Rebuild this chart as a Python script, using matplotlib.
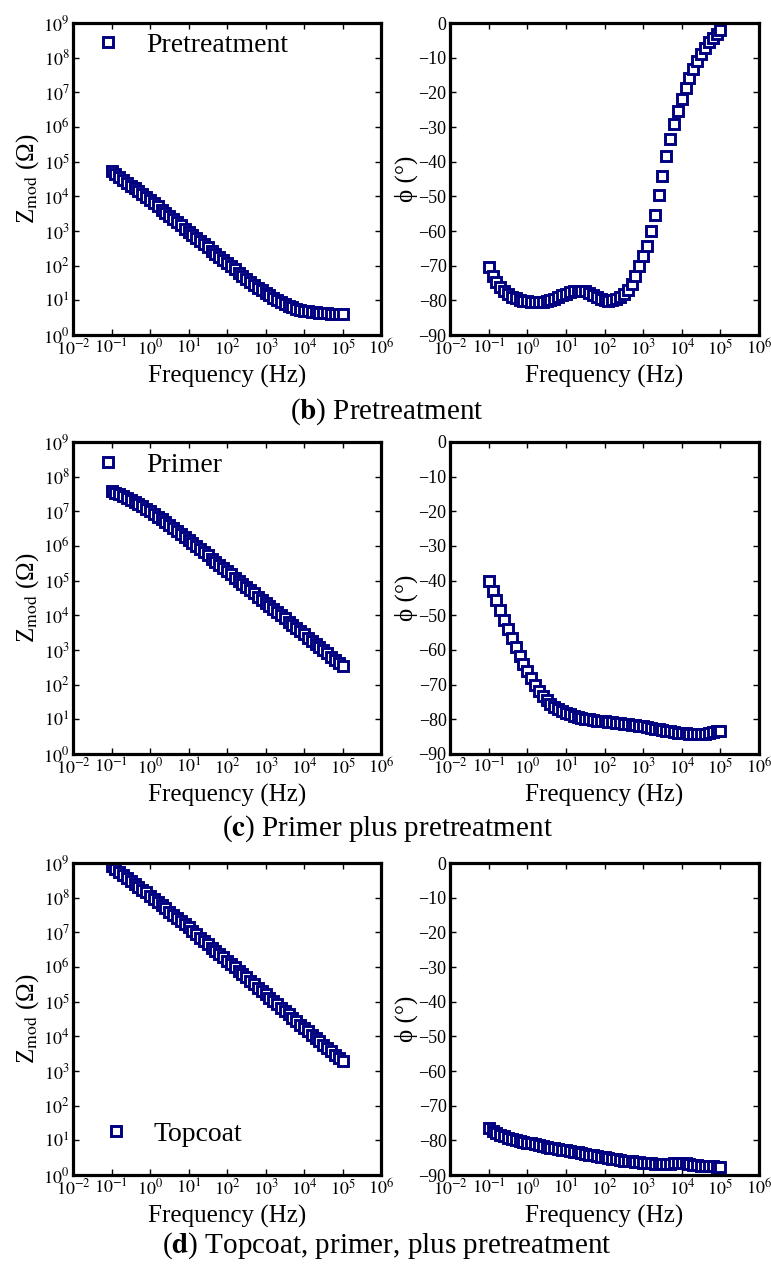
import numpy as np
import matplotlib
matplotlib.use("Agg")
import matplotlib.pyplot as plt
from matplotlib.ticker import FixedLocator, FixedFormatter, NullLocator

plt.rcParams['font.family'] = ['Liberation Serif', 'DejaVu Serif']
plt.rcParams['mathtext.fontset'] = 'stix'
plt.rcParams['axes.unicode_minus'] = True

# ---------------- data ----------------
freq = [0.1, 0.126, 0.158, 0.2, 0.251, 0.316, 0.398, 0.501, 0.631, 0.794,
        1.0, 1.26, 1.58, 2.0, 2.51, 3.16, 3.98, 5.01, 6.31, 7.94,
        10.0, 12.6, 15.8, 20.0, 25.1, 31.6, 39.8, 50.1, 63.1, 79.4,
        100.0, 126.0, 158.0, 200.0, 251.0, 316.0, 398.0, 501.0, 631.0, 794.0,
        1000.0, 1260.0, 1580.0, 2000.0, 2510.0, 3160.0, 3980.0, 5010.0, 6310.0, 7940.0,
        10000.0, 12600.0, 15800.0, 20000.0, 25100.0, 31600.0, 39800.0, 50100.0, 63100.0, 79400.0,
        100000.0]

# log10 |Z| (Ohm)
pre_logZ = [4.72, 4.64, 4.56, 4.47, 4.39, 4.31, 4.23, 4.15, 4.07, 3.99,
            3.90, 3.81, 3.72, 3.62, 3.53, 3.44, 3.35, 3.26, 3.17, 3.07,
            2.98, 2.89, 2.80, 2.71, 2.62, 2.53, 2.43, 2.34, 2.25, 2.16,
            2.07, 1.98, 1.89, 1.80, 1.71, 1.62, 1.54, 1.45, 1.37, 1.30,
            1.22, 1.15, 1.08, 1.01, 0.95, 0.89, 0.84, 0.80, 0.76, 0.73,
            0.70, 0.68, 0.66, 0.65, 0.64, 0.63, 0.63, 0.62, 0.62, 0.62,
            0.62]
pri_logZ = [7.58, 7.54, 7.49, 7.44, 7.39, 7.33, 7.27, 7.21, 7.14, 7.07,
            7.00, 6.93, 6.85, 6.77, 6.69, 6.60, 6.52, 6.43, 6.35, 6.26,
            6.18, 6.09, 6.00, 5.91, 5.82, 5.73, 5.63, 5.54, 5.45, 5.36,
            5.27, 5.18, 5.09, 5.00, 4.91, 4.82, 4.72, 4.63, 4.54, 4.45,
            4.36, 4.27, 4.18, 4.09, 4.00, 3.91, 3.81, 3.72, 3.63, 3.54,
            3.45, 3.36, 3.27, 3.18, 3.09, 3.00, 2.90, 2.81, 2.72, 2.63,
            2.54]
top_logZ = [8.92, 8.83, 8.75, 8.66, 8.58, 8.49, 8.40, 8.32, 8.23, 8.15,
            8.06, 7.97, 7.88, 7.78, 7.69, 7.60, 7.51, 7.42, 7.32, 7.23,
            7.14, 7.04, 6.95, 6.85, 6.76, 6.66, 6.56, 6.47, 6.37, 6.28,
            6.18, 6.08, 5.99, 5.89, 5.79, 5.70, 5.60, 5.50, 5.40, 5.31,
            5.21, 5.11, 5.02, 4.92, 4.82, 4.73, 4.63, 4.53, 4.43, 4.34,
            4.24, 4.14, 4.05, 3.95, 3.86, 3.76, 3.66, 3.57, 3.47, 3.38,
            3.28]

# phase angle (degrees)
pre_phase = [-70.5, -73.0, -74.8, -76.2, -77.4, -78.2, -78.9, -79.4, -79.8, -80.1,
             -80.3, -80.5, -80.6, -80.6, -80.5, -80.3, -80.0, -79.6, -79.1, -78.6,
             -78.1, -77.7, -77.4, -77.2, -77.2, -77.4, -77.8, -78.4, -79.0, -79.6,
             -80.0, -80.1, -79.9, -79.5, -78.9, -78.1, -77.0, -75.2, -73.0, -70.0,
             -67.2, -64.2, -60.0, -55.5, -49.5, -44.0, -38.3, -33.5, -29.2, -25.3,
             -21.8, -18.8, -15.9, -13.3, -11.0, -9.0, -7.2, -5.6, -4.2, -3.1,
             -2.0]
pri_phase = [-40.1, -42.9, -45.6, -48.5, -51.3, -54.0, -56.6, -59.2, -61.7, -64.1,
             -66.2, -68.1, -70.1, -71.7, -73.2, -74.4, -75.5, -76.3, -77.1, -77.6,
             -78.2, -78.6, -79.0, -79.3, -79.6, -79.8, -80.0, -80.2, -80.4, -80.5,
             -80.6, -80.8, -80.9, -81.0, -81.1, -81.3, -81.4, -81.5, -81.7, -81.8,
             -82.0, -82.2, -82.4, -82.7, -82.9, -83.1, -83.3, -83.5, -83.6, -83.8,
             -83.9, -84.0, -84.1, -84.2, -84.2, -84.2, -84.1, -84.0, -83.7, -83.4,
             -83.3]
top_phase = [-76.3, -77.3, -77.9, -78.4, -78.8, -79.2, -79.5, -79.8, -80.1, -80.4,
             -80.7, -80.9, -81.2, -81.4, -81.7, -81.9, -82.1, -82.3, -82.5, -82.7,
             -82.9, -83.1, -83.3, -83.5, -83.7, -83.9, -84.1, -84.3, -84.5, -84.7,
             -84.9, -85.1, -85.3, -85.5, -85.7, -85.9, -86.0, -86.1, -86.2, -86.3,
             -86.4, -86.5, -86.6, -86.7, -86.7, -86.8, -86.8, -86.7, -86.6, -86.5,
             -86.5, -86.6, -86.9, -87.1, -87.2, -87.3, -87.4, -87.5, -87.5, -87.6,
             -87.6]

series_names = ["Pretreatment", "Primer", "Topcoat"]
captions = [r"($\mathbf{b}$) Pretreatment",
            r"($\mathbf{c}$) Primer plus pretreatment",
            r"($\mathbf{d}$) Topcoat, primer, plus pretreatment"]

x_ticks = [1e-2, 1e-1, 1e0, 1e1, 1e2, 1e3, 1e4, 1e5, 1e6]
x_ticklabels = [r"$10^{-2}$", r"$10^{-1}$", r"$10^{0}$", r"$10^{1}$", r"$10^{2}$",
                r"$10^{3}$", r"$10^{4}$", r"$10^{5}$", r"$10^{6}$"]
z_ticks = [1e0, 1e1, 1e2, 1e3, 1e4, 1e5, 1e6, 1e7, 1e8, 1e9]
z_ticklabels = [r"$10^{%d}$" % k for k in range(10)]
p_ticks = [0, -10, -20, -30, -40, -50, -60, -70, -80, -90]
p_ticklabels = ["0", "\u221210", "\u221220", "\u221230", "\u221240",
                "\u221250", "\u221260", "\u221270", "\u221280", "\u221290"]

z_label = "Z$_{\\mathrm{mod}}$ (\u03a9)"
p_label = "\u03d5 (\u00b0)"
x_label = "Frequency (Hz)"

# ---------------- styling ----------------
W, H = 771, 1271
color = "#000080"
ms = 7.0
mew = 2.1

fig = plt.figure(figsize=(W / 100, H / 100), dpi=100)

rows_px = [(23, 335), (442, 754), (863, 1175)]
left_px = (73, 381)
right_px = (450, 759)


def rect(xpx, ypx):
    x0, x1 = xpx
    y0, y1 = ypx
    return [x0 / W, 1 - y1 / H, (x1 - x0) / W, (y1 - y0) / H]


def style(ax):
    for s in ax.spines.values():
        s.set_linewidth(2.3)
    ax.tick_params(which='major', direction='in', length=4, width=1.0,
                   top=True, right=True, labelsize=13, pad=2.5)
    ax.xaxis.set_minor_locator(NullLocator())
    ax.yaxis.set_minor_locator(NullLocator())


zs = [pre_logZ, pri_logZ, top_logZ]
ps = [pre_phase, pri_phase, top_phase]
legend_pos = [(0.07, 0.93), (0.07, 0.926), (0.095, 0.131)]
caption_y = [412, 829, 1246]

for i in range(3):
    axz = fig.add_axes(rect(left_px, rows_px[i]))
    axz.set_xscale('log')
    axz.set_yscale('log')
    axz.plot(freq, np.power(10.0, zs[i]), ls='none', marker='s', ms=ms,
             mfc='white', mec=color, mew=mew, label=series_names[i])
    axz.set_xlim(1e-2, 1e6)
    axz.set_ylim(1e0, 1e9)
    axz.xaxis.set_major_locator(FixedLocator(x_ticks))
    axz.xaxis.set_major_formatter(FixedFormatter(x_ticklabels))
    axz.yaxis.set_major_locator(FixedLocator(z_ticks))
    axz.yaxis.set_major_formatter(FixedFormatter(z_ticklabels))
    style(axz)
    axz.set_xlabel(x_label, fontsize=18)
    axz.xaxis.set_label_coords(0.5, -0.095)
    axz.set_ylabel(z_label, fontsize=18)
    axz.yaxis.set_label_coords(-0.105, 0.5)
    axz.legend(loc='center left', bbox_to_anchor=legend_pos[i], frameon=False,
               fontsize=20, numpoints=1, handlelength=1.0, handletextpad=0.85,
               borderpad=0, borderaxespad=0)

    axp = fig.add_axes(rect(right_px, rows_px[i]))
    axp.set_xscale('log')
    axp.plot(freq, ps[i], ls='none', marker='s', ms=ms,
             mfc='white', mec=color, mew=mew)
    axp.set_xlim(1e-2, 1e6)
    axp.set_ylim(-90, 0)
    axp.xaxis.set_major_locator(FixedLocator(x_ticks))
    axp.xaxis.set_major_formatter(FixedFormatter(x_ticklabels))
    axp.yaxis.set_major_locator(FixedLocator(p_ticks))
    axp.yaxis.set_major_formatter(FixedFormatter(p_ticklabels))
    style(axp)
    axp.set_xlabel(x_label, fontsize=18)
    axp.xaxis.set_label_coords(0.5, -0.095)
    axp.set_ylabel(p_label, fontsize=18)
    axp.yaxis.set_label_coords(-0.105, 0.5)

    fig.text(387 / W, 1 - caption_y[i] / H, captions[i], fontsize=21,
             ha='center', va='center')

fig.savefig("out.png", dpi=100)
